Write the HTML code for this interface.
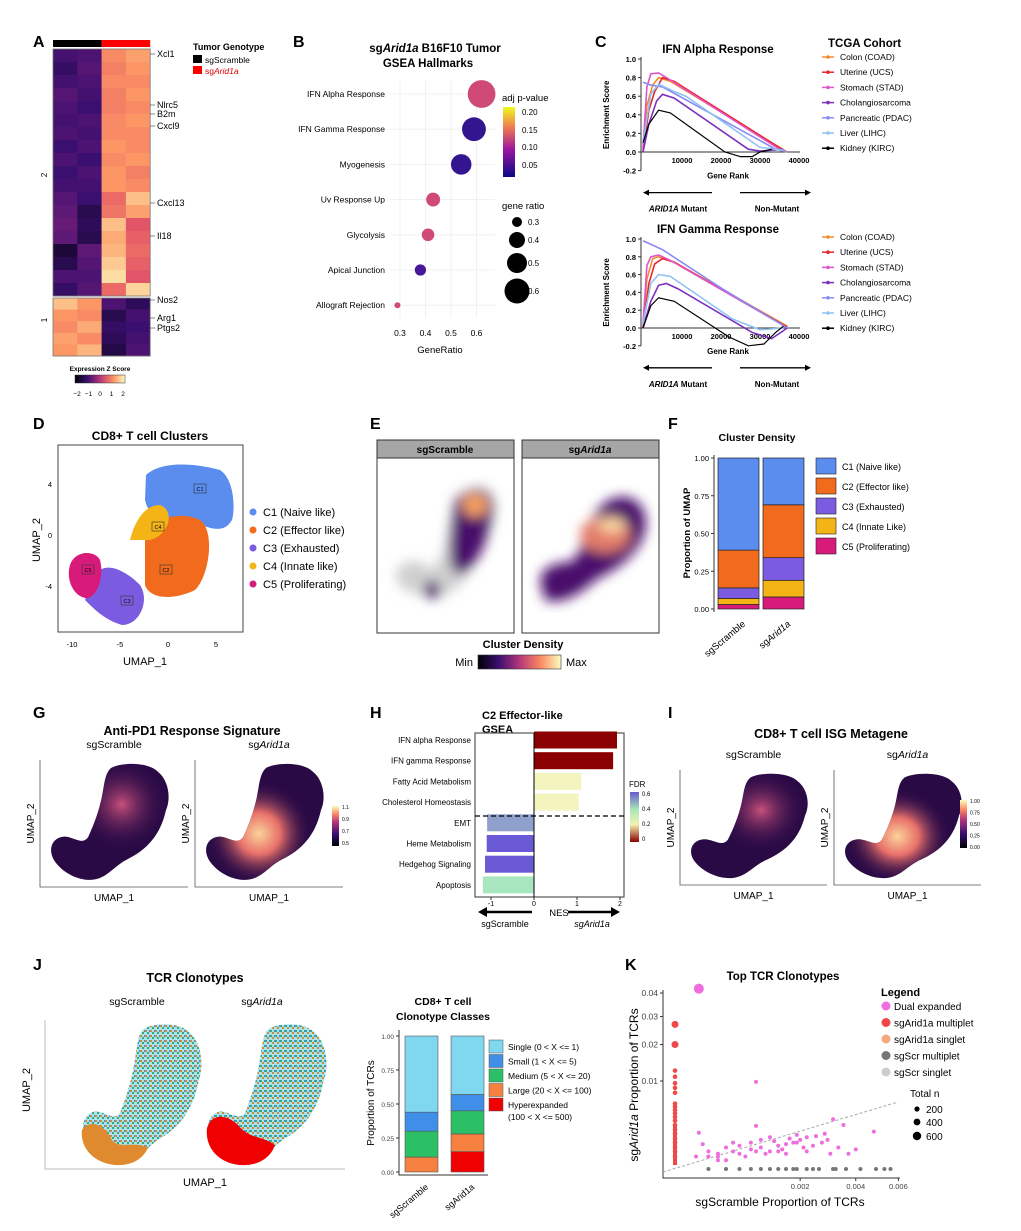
<!DOCTYPE html>
<html><head><meta charset="utf-8"><style>
body{margin:0;background:#fff}
svg{display:block;font-family:"Liberation Sans",sans-serif}
</style></head><body>
<svg id="fig" width="1021" height="1231" viewBox="0 0 1021 1231" xmlns="http://www.w3.org/2000/svg">
<defs>
<linearGradient id="magma" x1="0" x2="1" y1="0" y2="0">
<stop offset="0" stop-color="#000004"/><stop offset="0.25" stop-color="#3b0f70"/><stop offset="0.5" stop-color="#b5367a"/><stop offset="0.75" stop-color="#fb8861"/><stop offset="1" stop-color="#fcfdbf"/></linearGradient>
<linearGradient id="magmaV" x1="0" x2="0" y1="1" y2="0">
<stop offset="0" stop-color="#000004"/><stop offset="0.3" stop-color="#3b0f70"/><stop offset="0.6" stop-color="#b5367a"/><stop offset="0.8" stop-color="#fb8861"/><stop offset="1" stop-color="#fcfdbf"/></linearGradient>
<linearGradient id="plasmaV" x1="0" x2="0" y1="1" y2="0">
<stop offset="0" stop-color="#0d0887"/><stop offset="0.4" stop-color="#9c179e"/><stop offset="0.7" stop-color="#ed7953"/><stop offset="1" stop-color="#f0f921"/></linearGradient>
<linearGradient id="fdrV" x1="0" x2="0" y1="1" y2="0">
<stop offset="0" stop-color="#8b0000"/><stop offset="0.35" stop-color="#f2f2b0"/><stop offset="0.65" stop-color="#a8e6b8"/><stop offset="1" stop-color="#6a5acd"/></linearGradient>
<filter id="blur6"><feGaussianBlur stdDeviation="6"/></filter>
<radialGradient id="hotG" cx="0.45" cy="0.6" r="0.45"><stop offset="0" stop-color="#fcd29a"/><stop offset="0.4" stop-color="#e8706a"/><stop offset="1" stop-color="#2a0a4a" stop-opacity="0"/></radialGradient>
<radialGradient id="hotS" cx="0.6" cy="0.35" r="0.4"><stop offset="0" stop-color="#c8507a"/><stop offset="1" stop-color="#2a0a4a" stop-opacity="0"/></radialGradient>
<pattern id="tcrS" width="5" height="5" patternUnits="userSpaceOnUse"><rect width="5" height="5" fill="#a8e4f0"/><rect x="0" y="0" width="2" height="2" fill="#d4892e"/><rect x="2" y="2" width="2" height="2" fill="#3aa870"/><rect x="4" y="0" width="1" height="2" fill="#3f8ee8"/></pattern>
<pattern id="tcrA" width="5" height="5" patternUnits="userSpaceOnUse"><rect width="5" height="5" fill="#a8e4f0"/><rect x="0" y="0" width="2" height="2" fill="#3aa870"/><rect x="2" y="2" width="2" height="2" fill="#d4892e"/><rect x="4" y="0" width="1" height="2" fill="#3f8ee8"/></pattern>
</defs>
</svg>
<script>
const NS='http://www.w3.org/2000/svg';
const svg=document.getElementById('fig');
function mk(tag,attrs,parent){const e=document.createElementNS(NS,tag);for(const k in attrs)e.setAttribute(k,attrs[k]);(parent||svg).appendChild(e);return e;}
function tx(x,y,s,size,opt,parent){opt=opt||{};const e=mk('text',Object.assign({x:x,y:y,'font-size':size,fill:'#000'},opt),parent);e.textContent=s;return e;}

/* ===== DATA ===== */
const heatCluster2=[[-0.9,-0.8,0.9,1.1],[-1.1,-0.7,0.8,1.0],[-0.9,-0.8,0.9,0.9],[-0.7,-0.9,0.8,1.0],[-0.8,-1.0,0.8,0.9],[-0.9,-0.8,0.9,1.0],[-0.8,-0.9,0.9,0.9],[-1.0,-0.8,1.0,0.9],[-0.8,-1.0,0.9,1.0],[-1.0,-0.8,1.0,0.8],[-0.9,-0.9,1.0,0.9],[-0.7,-1.0,0.6,1.4],[-0.6,-1.3,0.7,1.1],[-0.5,-1.2,1.4,0.4],[-0.6,-1.3,1.2,0.5],[-1.5,-0.6,1.3,0.6],[-1.3,-0.7,1.5,0.5],[-0.8,-0.8,1.7,0.4],[-1.1,-0.7,0.6,1.6]];
const heatCluster1=[[1.4,1.0,-0.8,-1.2],[1.0,0.9,-1.3,-0.9],[0.9,1.2,-1.1,-1.0],[1.1,0.9,-1.2,-0.9],[1.0,1.3,-1.4,-0.8]];
const genes=['Xcl1','Nlrc5','B2m','Cxcl9','Cxcl13','Il18','Nos2','Arg1','Ptgs2'];
const gseaTerms=['IFN Alpha Response','IFN Gamma Response','Myogenesis','Uv Response Up','Glycolysis','Apical Junction','Allograft Rejection'];
const gseaRatio=[0.62,0.59,0.54,0.43,0.41,0.38,0.29];
const gseaCount=[0.61,0.55,0.50,0.40,0.38,0.36,0.28];
const gseaP=[0.19,0.03,0.03,0.19,0.19,0.05,0.19];
const gseaTicks=[0.3,0.4,0.5,0.6];
const cohorts=['Colon (COAD)','Uterine (UCS)','Stomach (STAD)','Cholangiosarcoma','Pancreatic (PDAC)','Liver (LIHC)','Kidney (KIRC)'];
const cohortColors=['#f58a2a','#e8262b','#e055c8','#7b30c0','#8a8af0','#8ec3f2','#000'];
const alphaCurves=[
 [[0,0.03],[1,0.5],[2.5,0.72],[4,0.8],[7,0.76],[37,0]],
 [[0,0],[1.5,0.45],[3,0.65],[5,0.8],[8,0.76],[36,0.02]],
 [[0,0.05],[1,0.7],[2,0.84],[4,0.85],[6,0.8],[35,0.03]],
 [[0,0],[1.5,0.3],[3.5,0.55],[5,0.62],[8,0.58],[27,0.03],[30,0.01],[36,0.03]],
 [[0,0.75],[2,0.72],[5,0.7],[34,0.03],[37,0]],
 [[0,0.1],[2,0.62],[4,0.73],[8,0.65],[11,0.6],[30,0.05],[36,0.02]],
 [[0,0.1],[1.5,0.3],[4,0.45],[7,0.42],[21,0],[25,-0.05],[28,-0.05],[30,0],[33,0.03]]];
const gammaCurves=[
 [[0,0],[1,0.55],[2.5,0.78],[4,0.8],[8,0.74],[37,0.02]],
 [[0,0],[1.5,0.5],[3,0.72],[5,0.78],[8,0.74],[37,0.01]],
 [[0,0.05],[1,0.7],[2,0.8],[4,0.82],[7,0.76],[36,0.03]],
 [[0,0],[2,0.3],[4,0.48],[6,0.5],[9,0.44],[28,-0.05],[33,-0.12],[37,0]],
 [[0,0.98],[5,0.88],[20,0.45],[37,0]],
 [[0,0.05],[2,0.5],[4,0.6],[7,0.58],[23,0.1],[30,-0.02],[36,0]],
 [[0,0],[2,0.25],[4,0.34],[8,0.3],[22,-0.1],[27,-0.2],[31,-0.18],[34,-0.05],[36,0.02]]];
const rankTicks=[10000,20000,30000,40000];
const esTicks=[-0.2,0.0,0.2,0.4,0.6,0.8,1.0];
const clusterNames=['C1 (Naive like)','C2 (Effector like)','C3 (Exhausted)','C4 (Innate Like)','C5 (Proliferating)'];
const clusterColors=['#5b8def','#f26b1d','#7b5ce0','#f5b416','#d81b7a'];
const densScramble=[0.61,0.25,0.07,0.04,0.03];
const densArid=[0.31,0.35,0.15,0.11,0.08];
const densTicks=[0,0.25,0.5,0.75,1.0];
const nesTerms=['IFN alpha Response','IFN gamma Response','Fatty Acid Metabolism','Cholesterol Homeostasis','EMT','Heme Metabolism','Hedgehog Signaling','Apoptosis'];
const nesValues=[1.93,1.84,1.1,1.04,-1.09,-1.1,-1.14,-1.19];
const nesFDR=[0.0,0.0,0.22,0.22,0.62,0.66,0.66,0.42];
const nesTicks=[-1,0,1,2];
const cloneClasses=['Single (0 < X <= 1)','Small (1 < X <= 5)','Medium (5 < X <= 20)','Large (20 < X <= 100)','Hyperexpanded\n(100 < X <= 500)'];
const cloneColors=['#7fd8f0','#3f8ee8','#2bbf66','#f58040','#f00000'];
const cloneScramble=[0.56,0.14,0.19,0.11,0.0];
const cloneArid=[0.43,0.12,0.17,0.13,0.15];
const kTicksX=[0.002,0.004,0.006];
const kTicksY=[0.01,0.02,0.03,0.04];
const dualX=[0.00015,0.0002,0.0001,0.0003,0.0005,0.0006,0.0008,0.001,0.0012,0.0014,0.0016,0.0018,0.002,0.0022,0.0025,0.0028,0.003,0.0035,0.004,0.0048,0.0002,0.0003,0.0004,0.0005,0.0007,0.0009,0.0011,0.0013,0.0015,0.0017,0.0019,0.0021,0.0024,0.0027,0.0031,0.0033,0.0006,0.0008,0.001,0.0012,0.0014,0.0016,0.0019,0.0022,0.0003,0.0004,0.0009,0.00012,0.0029,0.0037];
const dualY=[0.0008,0.0004,0.0002,0.0003,0.0004,0.0003,0.0005,0.0006,0.0004,0.0007,0.0008,0.0009,0.0011,0.0013,0.0014,0.0016,0.0003,0.0025,0.0005,0.0018,0.0002,0.0002,0.0006,0.0009,0.0002,0.0004,0.0003,0.0010,0.0005,0.0012,0.0015,0.0006,0.0007,0.0009,0.0032,0.0006,0.0007,0.0009,0.0011,0.0013,0.0004,0.0003,0.0009,0.0004,0.0001,0.0001,0.0024,0.0017,0.0011,0.0003];
const bigDualX=[0.00012,0.0009];const bigDualY=[0.042,0.0098];
const aridMultY=[0.027,0.02,0.0125,0.011,0.0095,0.0085,0.0075,0.0055,0.005,0.0045,0.004,0.0035,0.003,0.0025,0.002,0.0016,0.0012,0.0009,0.0006,0.0004,0.0002];
const scrMultX=[0.0002,0.0004,0.0006,0.0008,0.001,0.0012,0.0014,0.0016,0.0018,0.0019,0.0022,0.0024,0.0026,0.0031,0.0032,0.0036,0.0042,0.0049,0.0053,0.0056];

/* ===== Panel letters ===== */
[['A',33,47],['B',293,47],['C',595,47],['D',33,429],['E',370,429],['F',668,429],['G',33,718],['H',370,718],['I',668,718],['J',33,970],['K',625,970]].forEach(p=>{const t=tx(p[1],p[2],p[0],16,{'font-weight':'bold'});});

/* ===== A heatmap ===== */
function magma(z){const st=[[-2,[0,0,4]],[-1,[59,15,112]],[-0.3,[120,30,120]],[0.3,[222,73,104]],[1,[252,150,100]],[2,[252,253,191]]];
 z=Math.max(-2,Math.min(2,z));for(let i=0;i<st.length-1;i++){if(z<=st[i+1][0]){const t=(z-st[i][0])/(st[i+1][0]-st[i][0]);const a=st[i][1],b=st[i+1][1];return 'rgb('+a.map((v,j)=>Math.round(v+(b[j]-v)*t)).join(',')+')';}}return 'rgb(252,253,191)';}
const gA=mk('g',{});
const hx0=53,cw=24.3;
mk('rect',{x:hx0,y:40,width:cw*2,height:7,fill:'#000'},gA);
mk('rect',{x:hx0+cw*2,y:40,width:cw*2,height:7,fill:'#f00'},gA);
function drawBlock(rows,y0,h){const rh=h/rows.length;rows.forEach((r,i)=>r.forEach((z,j)=>{const c=mk('rect',{x:hx0+j*cw,y:y0+i*rh,width:cw+0.3,height:rh+0.3,fill:magma(z)},gA);}));mk('rect',{x:hx0,y:y0,width:cw*4,height:h,fill:'none',stroke:'#777','stroke-width':0.8},gA);}
drawBlock(heatCluster2,49,247);drawBlock(heatCluster1,298,58);
tx(47,175,'2',8,{transform:'rotate(-90 47 175)','text-anchor':'middle'},gA);
tx(47,320,'1',8,{transform:'rotate(-90 47 320)','text-anchor':'middle'},gA);
const gy=[57,108,117,129,206,239,303,321,331];
gy.forEach((y,i)=>{mk('line',{x1:150,x2:155,y1:y-3,y2:y-3,stroke:'#555','stroke-width':0.7},gA);tx(157,y,genes[i],9,{},gA);});
tx(193,50,'Tumor Genotype',9,{'font-weight':'bold'},gA);
mk('rect',{x:193,y:55,width:9,height:8,fill:'#000'},gA);tx(205,63,'sgScramble',8.5,{},gA);
mk('rect',{x:193,y:66,width:9,height:8,fill:'#f00'},gA);
const ta=tx(205,74,'sg',8.5,{fill:'#d00'},gA);const tsp=mk('tspan',{'font-style':'italic'},ta);tsp.textContent='Arid1a';
tx(100,371,'Expression Z Score',6.5,{'font-weight':'bold','text-anchor':'middle'},gA);
mk('rect',{x:75,y:375,width:50,height:8,fill:'url(#magma)',stroke:'#333','stroke-width':0.5},gA);
['−2','−1','0','1','2'].forEach((s,i)=>tx(77+i*11.5,396,s,6.5,{'text-anchor':'middle'},gA));

/* ===== B dot plot ===== */
const gB=mk('g',{});
const bx=v=>400+(v-0.3)*255, by=i=>94+i*35.2;
tx(435,52,'sg',11.5,{'font-weight':'bold','text-anchor':'middle'},gB).innerHTML='sg<tspan font-style="italic">Arid1a</tspan> B16F10 Tumor';
tx(428,67,'GSEA Hallmarks',11.5,{'font-weight':'bold','text-anchor':'middle'},gB);
gseaTerms.forEach((t,i)=>{mk('line',{x1:390,x2:495,y1:by(i),y2:by(i),stroke:'#eee','stroke-width':0.8},gB);tx(385,by(i)+3,t,8.5,{'text-anchor':'end'},gB);});
gseaTicks.forEach(v=>{mk('line',{x1:bx(v),x2:bx(v),y1:80,y2:318,stroke:'#eee','stroke-width':0.8},gB);tx(bx(v),336,v.toFixed(1),8.5,{'text-anchor':'middle'},gB);});
function pcol(p){const t=(p-0.02)/0.18;const a=[40,20,140],m=[140,30,180],b=[215,80,110];let c;if(t<0.5){c=a.map((v,j)=>v+(m[j]-v)*t*2);}else{c=m.map((v,j)=>v+(b[j]-v)*(t-0.5)*2);}return 'rgb('+c.map(Math.round).join(',')+')';}
gseaTerms.forEach((t,i)=>{const c=mk('circle',{cx:bx(gseaRatio[i]),cy:by(i),r:3+(gseaCount[i]-0.28)*33,fill:pcol(gseaP[i])},gB);});
tx(440,353,'GeneRatio',9.5,{'text-anchor':'middle'},gB);
tx(502,101,'adj p-value',9.5,{},gB);
mk('rect',{x:503,y:107,width:12,height:70,fill:'url(#plasmaV)'},gB);
[['0.20',112],['0.15',130],['0.10',147],['0.05',165]].forEach(a=>tx(522,a[1]+3,a[0],8,{},gB));
tx(502,209,'gene ratio',9.5,{},gB);
[[0.3,222,5],[0.4,240,8],[0.5,263,10],[0.6,291,12.5]].forEach(a=>{mk('circle',{cx:517,cy:a[1],r:a[2],fill:'#000'},gB);tx(528,a[1]+3,String(a[0]),8,{},gB);});

/* ===== C GSEA curves ===== */
function gseaChart(curves,title,y1,y0,name){const g=mk('g',{});
 const X=k=>643+k*3.9, Y=v=>y0-(v)*(y0-y1);
 tx(718,y1-6,title,11.5,{'font-weight':'bold','text-anchor':'middle'},g);
 mk('line',{x1:641,x2:641,y1:y1-2,y2:Y(-0.2),stroke:'#333'},g);
 mk('line',{x1:641,x2:800,y1:Y(0),y2:Y(0),stroke:'#333'},g);
 esTicks.forEach(v=>{mk('line',{x1:638,x2:641,y1:Y(v),y2:Y(v),stroke:'#333'},g);tx(636,Y(v)+3,v.toFixed(1),7.5,{'text-anchor':'end','font-weight':'bold'},g);});
 rankTicks.forEach(r=>{tx(X(r/1000),Y(0)+11,String(r),7.5,{'text-anchor':'middle','font-weight':'bold'},g);});
 tx(609,(y1+Y(-0.2))/2,'Enrichment Score',8,{'font-weight':'bold','text-anchor':'middle',transform:'rotate(-90 609 '+((y1+Y(-0.2))/2)+')'},g);
 tx(728,Y(-0.2)+8,'Gene Rank',8,{'font-weight':'bold','text-anchor':'middle'},g);
 curves.forEach((c,i)=>{const p=mk('polyline',{points:c.map(q=>X(q[0])+','+Y(q[1])).join(' '),fill:'none',stroke:cohortColors[i],'stroke-width':i==6?1.2:1.6},g);});
 const ay=Y(-0.2)+22;
 mk('line',{x1:648,x2:712,y1:ay,y2:ay,stroke:'#000','stroke-width':1.3},g);mk('path',{d:`M643 ${ay} l6 -3 v6z`},g);
 mk('line',{x1:740,x2:806,y1:ay,y2:ay,stroke:'#000','stroke-width':1.3},g);mk('path',{d:`M811 ${ay} l-6 -3 v6z`},g);
 const t=tx(678,ay+19,'',8,{'font-weight':'bold','text-anchor':'middle'},g);t.innerHTML='<tspan font-style="italic">ARID1A</tspan> Mutant';
 tx(777,ay+19,'Non-Mutant',8,{'font-weight':'bold','text-anchor':'middle'},g);
 return g;}
gseaChart(alphaCurves,'IFN Alpha Response',59,152,'ifn-alpha-chart');
gseaChart(gammaCurves,'IFN Gamma Response',239,328,'ifn-gamma-chart');
tx(828,47,'TCGA Cohort',11.5,{'font-weight':'bold'});
function cohortLegend(y0){cohorts.forEach((c,i)=>{const y=y0+i*15.2;mk('line',{x1:822,x2:834,y1:y,y2:y,stroke:cohortColors[i],'stroke-width':1.5});mk('circle',{cx:828,cy:y,r:1.8,fill:cohortColors[i]});const t=tx(840,y+3,c,8.5);});}
cohortLegend(57);cohortLegend(237);

/* ===== UMAP shapes (absolute coordinates) ===== */
const umapNorm='M0.47,0.05 C0.55,0.0 0.75,0.0 0.82,0.08 C0.9,0.15 0.92,0.3 0.88,0.4 C0.85,0.55 0.78,0.7 0.6,0.8 C0.5,0.85 0.45,0.95 0.35,0.97 C0.25,0.99 0.12,0.93 0.05,0.82 C0.0,0.74 0.02,0.64 0.1,0.62 C0.18,0.6 0.25,0.7 0.3,0.62 C0.35,0.5 0.38,0.4 0.4,0.3 C0.42,0.2 0.42,0.1 0.47,0.05 Z';
function absPath(x,y,w,h){return umapNorm.replace(/(-?[\d.]+),(-?[\d.]+)/g,(m,a,b)=>(x+parseFloat(a)*w).toFixed(1)+','+(y+parseFloat(b)*h).toFixed(1));}
function shapeAt(x,y,w,h,fill,parent,name){const p=mk('path',{d:absPath(x,y,w,h),fill:fill},parent);return p;}

/* ===== D ===== */
const gD=mk('g',{});
tx(150,440,'CD8+ T cell Clusters',12,{'font-weight':'bold','text-anchor':'middle'},gD);
mk('rect',{x:58,y:445,width:185,height:187,fill:'#fff',stroke:'#444'},gD);
const Dx=v=>168+v*9.6, Dy=v=>535-v*12.8;
mk('path',{d:'M146 475 C160 462 190 462 220 470 C235 480 235 510 232 520 C220 540 200 520 180 520 C160 515 150 520 145 500 Z',fill:'#5b8def'},gD);
mk('path',{d:'M145 530 C150 520 180 510 200 520 C215 530 210 575 195 590 C175 600 150 600 145 585 Z',fill:'#f26b1d'},gD);
mk('path',{d:'M130 540 C135 520 145 505 160 505 C175 510 170 535 150 540 Z',fill:'#f5b416'},gD);
mk('path',{d:'M95 575 C105 560 125 570 140 585 C150 600 140 625 122 625 C105 620 95 610 85 600 Z',fill:'#7b5ce0'},gD);
mk('path',{d:'M70 565 C75 550 95 550 100 560 C105 580 95 600 85 598 C72 595 66 578 70 565 Z',fill:'#d81b7a'},gD);
[['C1',200,489],['C2',166,570],['C3',127,601],['C4',158,527],['C5',88,570]].forEach(a=>{mk('rect',{x:a[1]-6,y:a[2]-5,width:12,height:9,fill:'none',stroke:'#333','stroke-width':0.6},gD);tx(a[1],a[2]+2,a[0],5.5,{'text-anchor':'middle'},gD);});
[-10,-5,0,5].forEach(v=>tx(Dx(v),647,String(v),7.5,{'text-anchor':'middle'},gD));
[4,0,-4].forEach(v=>tx(52,Dy(v)+3,String(v),7.5,{'text-anchor':'end'},gD));
tx(145,665,'UMAP_1',11,{'text-anchor':'middle'},gD);
tx(40,540,'UMAP_2',11,{'text-anchor':'middle',transform:'rotate(-90 40 540)'},gD);
clusterNames.forEach((c,i)=>{const y=512+i*18;mk('circle',{cx:253,cy:y,r:3.5,fill:clusterColors[i]},gD);const t=tx(263,y+4,c.replace('Like','like'),11,{},gD);});

/* ===== E ===== */
const gE=mk('g',{});
[[377,'sgScramble'],[522,'sgArid1a']].forEach((a,k)=>{mk('rect',{x:a[0],y:440,width:137,height:193,fill:'#fff',stroke:'#333'},gE);mk('rect',{x:a[0],y:440,width:137,height:18,fill:'#a6a6a6',stroke:'#333'},gE);
 const t=tx(a[0]+68,453,'',10,{'font-weight':'bold','text-anchor':'middle'},gE);t.innerHTML=k==0?'sgScramble':'sg<tspan font-style="italic">Arid1a</tspan>';});
const bl=mk('g',{filter:'url(#blur6)'},gE);
mk('path',{d:'M395 575 C400 560 420 555 430 570 L440 560 C450 540 445 510 460 495 C475 480 495 485 495 505 C495 530 480 550 470 570 C460 590 440 600 430 598 C420 590 405 600 395 575Z',fill:'#cfcfcf'},bl);
mk('path',{d:'M455 500 C470 485 495 485 493 510 C490 540 475 570 460 575 C445 570 450 540 455 500Z',fill:'#4a0d6a'},bl);
mk('ellipse',{cx:475,cy:505,rx:13,ry:12,fill:'#f6a060'},bl);
mk('ellipse',{cx:432,cy:590,rx:8,ry:9,fill:'#4a0d6a'},bl);
mk('path',{d:'M540 580 C545 560 565 565 575 560 C585 540 590 510 610 500 C630 490 650 505 645 530 C640 555 615 570 595 580 C580 595 560 605 545 600Z',fill:'#4a0d6a'},bl);
mk('ellipse',{cx:605,cy:535,rx:25,ry:18,fill:'#e27c6a'},bl);
mk('ellipse',{cx:612,cy:525,rx:14,ry:8,fill:'#fbd4a0'},bl);
tx(523,648,'Cluster Density',11,{'font-weight':'bold','text-anchor':'middle'},gE);
tx(473,666,'Min',11,{'text-anchor':'end'},gE);
mk('rect',{x:478,y:655,width:83,height:14,fill:'url(#magma)',stroke:'#333','stroke-width':0.6},gE);
tx(566,666,'Max',11,{},gE);

/* ===== F stacked bar ===== */
const gF=mk('g',{});
const Fy=v=>609-v*151;
tx(757,441,'Cluster Density',10.5,{'font-weight':'bold','text-anchor':'middle'},gF);
mk('line',{x1:714,x2:714,y1:455,y2:612,stroke:'#333'},gF);
densTicks.forEach(v=>{mk('line',{x1:711,x2:714,y1:Fy(v),y2:Fy(v),stroke:'#333'},gF);tx(709,Fy(v)+3,v.toFixed(2),7.5,{'text-anchor':'end'},gF);});
tx(690,533,'Proportion of UMAP',9.5,{'font-weight':'bold','text-anchor':'middle',transform:'rotate(-90 690 533)'},gF);
[[densScramble,718],[densArid,763]].forEach((a,k)=>{let acc=0;for(let i=a[0].length-1;i>=0;i--){const r=mk('rect',{x:a[1],y:Fy(acc+a[0][i]),width:41,height:a[0][i]*151,fill:clusterColors[i],stroke:'#222','stroke-width':0.7},gF);acc+=a[0][i];}
 const t=tx(a[1]+28,625,'',9.5,{'text-anchor':'end',transform:`rotate(-40 ${a[1]+28} 625)`},gF);t.innerHTML=k==0?'sgScramble':'sg<tspan font-style="italic">Arid1a</tspan>';});
clusterNames.forEach((c,i)=>{const y=458+i*20;mk('rect',{x:816,y:y,width:20,height:16,fill:clusterColors[i],stroke:'#222','stroke-width':0.6},gF);tx(842,y+12,c,9,{},gF);});

/* ===== G / I umap heatmaps ===== */
function umapPair(x0,y0,w,h,title,titleY,name){const g=mk('g',{});
 tx(x0+w+4,titleY,title,12.5,{'font-weight':'bold','text-anchor':'middle'},g);
 [0,1].forEach(k=>{const bx0=x0+k*(w+7);
  const t=tx(bx0+w/2,y0-12,'',10.5,{'text-anchor':'middle'},g);t.innerHTML=k==0?'sgScramble':'sg<tspan font-style="italic">Arid1a</tspan>';
  mk('path',{d:`M${bx0} ${y0} V${y0+h} H${bx0+w}`,fill:'none',stroke:'#555','stroke-width':0.8},g);
  shapeAt(bx0+8,y0+2,w-14,h-6,'#2a0a45',g,'umap-cells');
  shapeAt(bx0+8,y0+2,w-14,h-6,k==0?'url(#hotS)':'url(#hotG)',g,'umap-hotspot');
  tx(bx0+w/2,y0+h+14,'UMAP_1',10,{'text-anchor':'middle'},g);
  tx(bx0-6,y0+h/2,'UMAP_2',10,{'text-anchor':'middle',transform:`rotate(-90 ${bx0-6} ${y0+h/2})`},g);
 });
 return g;}
const gG=umapPair(40,760,148,127,'Anti-PD1 Response Signature',735,'anti-pd1-umap');
mk('rect',{x:332,y:806,width:7,height:40,fill:'url(#magmaV)'},gG);
['1.1','0.9','0.7','0.5'].forEach((s,i)=>tx(342,809+i*12,s,5,{},gG));
const gI=umapPair(680,770,147,115,'CD8+ T cell ISG Metagene',738,'isg-umap');
mk('rect',{x:960,y:800,width:7,height:48,fill:'url(#magmaV)'},gI);
['1.00','0.75','0.50','0.25','0.00'].forEach((s,i)=>tx(970,803+i*11.5,s,5,{},gI));

/* ===== H NES bars ===== */
const gH=mk('g',{});
const Hx=v=>534+v*43, Hy=i=>740+i*20.7;
tx(482,719,'C2 Effector-like',11,{'font-weight':'bold'},gH);
tx(482,733,'GSEA',11,{'font-weight':'bold'},gH);
mk('rect',{x:475,y:733,width:149,height:164,fill:'#fff',stroke:'#555','stroke-width':1.2},gH);
function fdrCol(f){const st=[[0,[139,0,0]],[0.22,[244,244,190]],[0.42,[168,230,192]],[0.62,[143,160,204]],[0.66,[106,90,214]]];f=Math.min(0.66,f);for(let i=0;i<st.length-1;i++){if(f<=st[i+1][0]){const t=(f-st[i][0])/(st[i+1][0]-st[i][0]);return 'rgb('+st[i][1].map((v,j)=>Math.round(v+(st[i+1][1][j]-v)*t)).join(',')+')';}}}
nesTerms.forEach((t,i)=>{const v=nesValues[i];const r=mk('rect',{x:Math.min(Hx(0),Hx(v)),y:Hy(i)-8.5,width:Math.abs(v)*43,height:17,fill:fdrCol(nesFDR[i])},gH);tx(471,Hy(i)+3,t,8,{'text-anchor':'end'},gH);});
mk('line',{x1:534,x2:534,y1:733,y2:897,stroke:'#000'},gH);
mk('line',{x1:475,x2:624,y1:816,y2:816,stroke:'#000','stroke-dasharray':'5,3','stroke-width':1.3},gH);
nesTicks.forEach(v=>{mk('line',{x1:Hx(v),x2:Hx(v),y1:897,y2:900,stroke:'#333'},gH);tx(Hx(v),906,String(v),7,{'text-anchor':'middle'},gH);});
tx(559,916,'NES',9.5,{'text-anchor':'middle'},gH);
mk('line',{x1:485,x2:532,y1:912,y2:912,stroke:'#000','stroke-width':2.5},gH);mk('path',{d:'M478 912 l9 -5 v10z'},gH);
mk('line',{x1:568,x2:612,y1:912,y2:912,stroke:'#000','stroke-width':2.5},gH);mk('path',{d:'M620 912 l-9 -5 v10z'},gH);
tx(505,927,'sgScramble',9,{'text-anchor':'middle'},gH);
tx(592,927,'',9,{'text-anchor':'middle','font-style':'italic'},gH).textContent='sgArid1a';
tx(629,787,'FDR',8,{},gH);
mk('rect',{x:630,y:792,width:9,height:50,fill:'url(#fdrV)'},gH);
['0.6','0.4','0.2','0'].forEach((s,i)=>tx(642,796+i*15,s,6,{},gH));

/* ===== J ===== */
const gJ=mk('g',{});
tx(195,982,'TCR Clonotypes',12.5,{'font-weight':'bold','text-anchor':'middle'},gJ);
mk('path',{d:'M45 1020 V1169 H345',fill:'none',stroke:'#bbb','stroke-width':1},gJ);
[[80,'sgScramble','url(#tcrS)'],[205,'sgArid1a','url(#tcrA)']].forEach((a,k)=>{const t=tx(a[0]+57,1005,'',10.5,{'text-anchor':'middle'},gJ);t.innerHTML=k==0?'sgScramble':'sg<tspan font-style="italic">Arid1a</tspan>';
 shapeAt(a[0],1022,135,145,a[2],gJ,'tcr-umap-cells');
 if(k==0){const o=mk('path',{d:'M82 1130 C90 1118 105 1125 112 1140 C120 1150 135 1140 148 1148 C140 1165 120 1168 105 1163 C90 1158 80 1145 82 1130Z',fill:'#e08a30'},gJ);}
 else{const r=mk('path',{d:'M207 1128 C212 1112 228 1115 238 1125 C250 1140 262 1135 275 1145 C268 1165 245 1168 230 1163 C215 1158 205 1145 207 1128Z',fill:'#f00000'},gJ);}});
tx(205,1186,'UMAP_1',11,{'text-anchor':'middle'},gJ);
tx(30,1090,'UMAP_2',11,{'text-anchor':'middle',transform:'rotate(-90 30 1090)'},gJ);
const gJ2=mk('g',{});
const Jy=v=>1172-v*136;
tx(443,1005,'CD8+ T cell',10.5,{'font-weight':'bold','text-anchor':'middle'},gJ2);
tx(443,1020,'Clonotype Classes',10.5,{'font-weight':'bold','text-anchor':'middle'},gJ2);
mk('path',{d:'M399 1030 V1175 H488',fill:'none',stroke:'#333'},gJ2);
densTicks.forEach(v=>{mk('line',{x1:396,x2:399,y1:Jy(v),y2:Jy(v),stroke:'#333'},gJ2);tx(394,Jy(v)+3,v.toFixed(2),6.5,{'text-anchor':'end',fill:'#444'},gJ2);});
tx(374,1103,'Proportion of TCRs',10,{'text-anchor':'middle',transform:'rotate(-90 374 1103)'},gJ2);
[[cloneScramble,405,'sgScramble'],[cloneArid,451,'sgArid1a']].forEach(a=>{let acc=0;for(let i=a[0].length-1;i>=0;i--){if(a[0][i]>0){const r=mk('rect',{x:a[1],y:Jy(acc+a[0][i]),width:33,height:a[0][i]*136,fill:cloneColors[i],stroke:'#555','stroke-width':0.6},gJ2);}acc+=a[0][i];}
 tx(a[1]+24,1188,a[2],9,{'text-anchor':'end',transform:`rotate(-40 ${a[1]+24} 1188)`},gJ2);});
cloneClasses.forEach((c,i)=>{const y=1047+i*14.5;mk('rect',{x:489,y:y-7,width:14,height:13,fill:cloneColors[i],stroke:'#555','stroke-width':0.5},gJ2);const ps=c.split('\n');ps.forEach((p,j)=>tx(508,y+3+j*12,p,8.5,{},gJ2));});

/* ===== K scatter ===== */
const gK=mk('g',{});
const Kx=v=>666+3000*Math.sqrt(v), Ky=v=>1169-880*Math.sqrt(v);
tx(783,980,'Top TCR Clonotypes',11.5,{'font-weight':'bold','text-anchor':'middle'},gK);
mk('path',{d:'M663 990 V1178 H900',fill:'none',stroke:'#333'},gK);
kTicksY.forEach(v=>{mk('line',{x1:660,x2:663,y1:Ky(v),y2:Ky(v),stroke:'#333'},gK);tx(658,Ky(v)+3,String(v),8.5,{'text-anchor':'end',fill:'#444'},gK);});
kTicksX.forEach(v=>{mk('line',{x1:Kx(v),x2:Kx(v),y1:1178,y2:1181,stroke:'#333'},gK);tx(Kx(v),1189,String(v),7.5,{'text-anchor':'middle',fill:'#444'},gK);});
mk('line',{x1:663,x2:898,y1:1172,y2:1102,stroke:'#aaa','stroke-dasharray':'3,2'},gK);
scrMultX.forEach(v=>{const c=mk('circle',{cx:Kx(v),cy:1169,r:2,fill:'#777'},gK);});
aridMultY.forEach((v,i)=>{const c=mk('circle',{cx:675,cy:Ky(v),r:i<2?3.5:2.3,fill:'#f04848'},gK);});
mk('rect',{x:673,y:Ky(0.0025),width:4,height:Ky(0)-Ky(0.0025)-4,fill:'#f04848'},gK);
dualX.forEach((v,i)=>{const c=mk('circle',{cx:Kx(v),cy:Ky(dualY[i]),r:2,fill:'#ee6ee0'},gK);});
bigDualX.forEach((v,i)=>{const c=mk('circle',{cx:Kx(v),cy:Ky(bigDualY[i]),r:i==0?5:2,fill:'#ee6ee0'},gK);});
tx(780,1206,'sgScramble Proportion of TCRs',12,{'text-anchor':'middle'},gK);
tx(638,1085,'',12,{'text-anchor':'middle',transform:'rotate(-90 638 1085)'},gK).innerHTML='sg<tspan font-style="italic">Arid1a</tspan> Proportion of TCRs';
tx(881,996,'Legend',11,{'font-weight':'bold'},gK);
[['Dual expanded','#ee6ee0'],['sgArid1a multiplet','#f04848'],['sgArid1a singlet','#f8a87a'],['sgScr multiplet','#777'],['sgScr singlet','#ccc']].forEach((a,i)=>{const y=1006+i*16.5;mk('circle',{cx:886,cy:y,r:4.5,fill:a[1]},gK);tx(894,y+4,a[0],10,{},gK);});
tx(910,1097,'Total n',10,{},gK);
[[200,1109,2.6],[400,1122,3.4],[600,1136,4.2]].forEach(a=>{mk('circle',{cx:917,cy:a[1],r:a[2],fill:'#000'},gK);tx(926,a[1]+4,String(a[0]),10,{},gK);});
</script>
</body></html>
